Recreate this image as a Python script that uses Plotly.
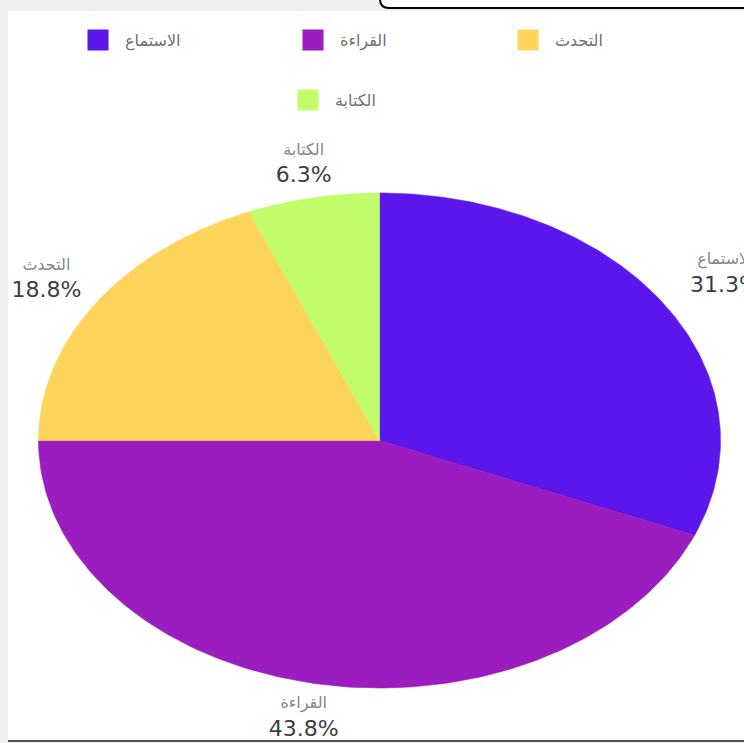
import numpy as np
import plotly.graph_objects as go

# Data: how often each language skill was chosen
skills = ["الاستماع", "القراءة", "التحدث", "الكتابة"]
counts = [5, 7, 3, 1]
colors = ["#5b16ec", "#9b1cbf", "#fed55a", "#c1fd6b"]

# Canvas (1 axis unit == 1 pixel)
W, H = 744, 743
LEFT, TOP, BOTTOM = 8, 11, 740
cx, cy = 379.5, 440.5          # pie centre
rx, ry = 341.0, 247.5          # pie radii (stretched horizontally)
aspect = rx / ry

total = float(sum(counts))
frac = np.array(counts, dtype=float) / total
ends = np.cumsum(frac) * 2 * np.pi
starts = ends - frac * 2 * np.pi
mids = (starts + ends) / 2

pct_text = [f"{np.floor(f * 1000 + 0.5) / 10:.1f}%" for f in frac]

fig = go.Figure()

# Pie wedges, clockwise from 12 o'clock
for i in range(len(skills)):
    th = np.linspace(starts[i], ends[i], 160)
    xs = np.concatenate([[cx], cx + rx * np.sin(th), [cx]])
    ys = np.concatenate([[cy], cy - ry * np.cos(th), [cy]])
    fig.add_trace(go.Scatter(
        x=xs, y=ys, mode="lines", fill="toself",
        fillcolor=colors[i], line=dict(width=0.6, color=colors[i]),
        showlegend=False, hoverinfo="skip",
    ))

# Outside labels: the label box is pushed out along the slice's mid
# direction until its edge clears the rim by OFF pixels
HH, OFF = 25.0, 9.0
lab_x, lab_y = [], []
for name, pct, m in zip(skills, pct_text, mids):
    hw = max(len(name) * 4.75, len(pct) * 4.9)
    vx, vy = np.sin(m), -np.cos(m)
    t = min(hw / max(abs(vx), 1e-9), HH / max(abs(vy), 1e-9))
    d = ry + OFF + t
    lab_x.append(cx + aspect * vx * d)
    lab_y.append(cy + vy * d)

fig.add_trace(go.Scatter(
    x=lab_x, y=[y - 13 for y in lab_y], mode="text", text=skills,
    textposition="middle center",
    textfont=dict(family="DejaVu Sans", size=16, color="#858585"),
    showlegend=False, hoverinfo="skip", cliponaxis=True,
))
fig.add_trace(go.Scatter(
    x=lab_x, y=[y + 13 for y in lab_y], mode="text", text=pct_text,
    textposition="middle center",
    textfont=dict(family="DejaVu Sans", size=22, color="#3d3d3d"),
    showlegend=False, hoverinfo="skip", cliponaxis=True,
))

# Legend entries
for i in range(len(skills)):
    fig.add_trace(go.Scatter(
        x=[None], y=[None], mode="markers", name=skills[i],
        marker=dict(symbol="square", size=16, color=colors[i],
                    line=dict(width=5, color=colors[i])),
        legend="legend" if i < 3 else "legend2",
    ))

legend_font = dict(family="DejaVu Sans", size=16, color="#707070")

fig.update_layout(
    width=W, height=H,
    margin=dict(l=0, r=0, t=0, b=0),
    paper_bgcolor="#efefef",
    plot_bgcolor="white",
    xaxis=dict(range=[LEFT, W], domain=[LEFT / W, 1], visible=False, fixedrange=True),
    yaxis=dict(range=[BOTTOM, TOP], domain=[(H - BOTTOM) / H, (H - TOP) / H],
               visible=False, fixedrange=True),
    legend=dict(orientation="h", x=71 / W, xanchor="left", y=1 - 40 / H,
                yanchor="middle", font=legend_font, entrywidth=156,
                itemwidth=44, bgcolor="rgba(0,0,0,0)"),
    legend2=dict(orientation="h", x=281 / W, xanchor="left", y=1 - 100 / H,
                 yanchor="middle", font=legend_font, itemwidth=44,
                 bgcolor="rgba(0,0,0,0)"),
    showlegend=True,
)

# Frame: top-right rounded tab and bottom rule
def px(x):
    return x / W

def py(y):
    return 1 - y / H

r = 9
tab = (f"M {px(380)},{py(-4)} "
       f"L {px(380)},{py(8 - r)} "
       f"Q {px(380)},{py(8)} {px(380 + r)},{py(8)} "
       f"L {px(760)},{py(8)} L {px(760)},{py(-4)} Z")
fig.add_shape(type="path", path=tab, xref="paper", yref="paper",
              fillcolor="white", line=dict(color="black", width=2), layer="above")
fig.add_shape(type="line", xref="paper", yref="paper",
              x0=px(LEFT), x1=1, y0=py(741), y1=py(741),
              line=dict(color="#555555", width=2), layer="above")

fig.write_html("out.html")
